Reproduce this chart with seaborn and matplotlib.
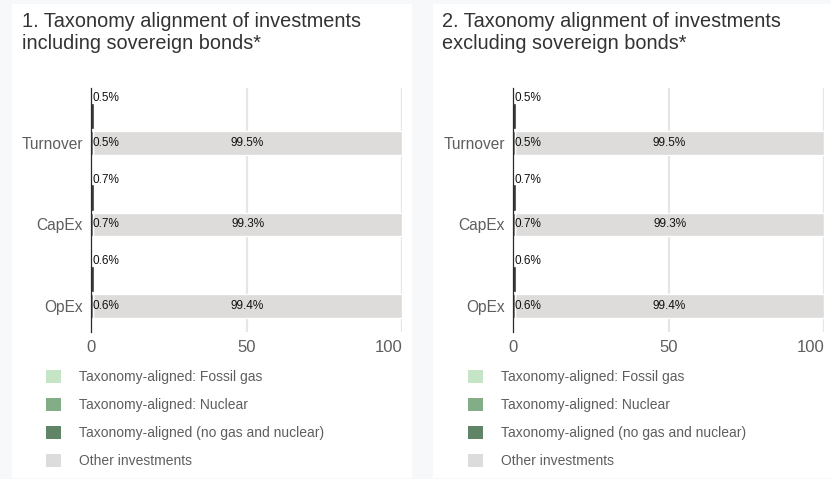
import matplotlib
matplotlib.use("Agg")
import matplotlib.pyplot as plt
import seaborn as sns
from matplotlib.patches import Patch, Rectangle

# data
categories = ["Turnover", "CapEx", "OpEx"]
aligned_incl = [0.5, 0.7, 0.6]
other_incl = [99.5, 99.3, 99.4]
aligned_excl = [0.5, 0.7, 0.6]
other_excl = [99.5, 99.3, 99.4]
titles = ["1. Taxonomy alignment of investments\nincluding sovereign bonds*",
          "2. Taxonomy alignment of investments\nexcluding sovereign bonds*"]
legend_labels = ["Taxonomy-aligned: Fossil gas", "Taxonomy-aligned: Nuclear",
                 "Taxonomy-aligned (no gas and nuclear)", "Other investments"]
legend_colors = ["#c6e4c6", "#82ad87", "#608566", "#dcdcdc"]
dark_bar = "#3c3c3c"
other_bar = "#dddcda"

sns.set_theme(style="white")
plt.rcParams["font.family"] = ["Liberation Sans", "DejaVu Sans"]

fig = plt.figure(figsize=(8.31, 4.79), dpi=100)
fig.patch.set_facecolor("#f7f8fa")
# white panels behind the axes
for px in [12, 433]:
    fig.patches.append(Rectangle((px / 831, 1 / 479), 400 / 831, 474 / 479,
                                 transform=fig.transFigure, facecolor="white",
                                 edgecolor="none", zorder=-5))

panels = [(aligned_incl, other_incl, 91, 22, 46), (aligned_excl, other_excl, 513, 442, 468)]
off_upper = -0.325
bar_h = 0.29

for i, (aligned, other, x0, tx, lx) in enumerate(panels):
    ax = fig.add_axes([x0 / 831, 1 - 332 / 479, 311 / 831, 244 / 479])
    ax.set_facecolor("none")
    ys = list(range(len(categories)))
    up = [y + off_upper for y in ys]
    # upper bar: aligned only
    ax.barh(up, aligned, height=bar_h, color=dark_bar, edgecolor=dark_bar, lw=1.2, zorder=3)
    # lower bar: aligned + other stacked
    ax.barh(ys, other, left=aligned, height=bar_h, color=other_bar, zorder=3)
    ax.barh(ys, aligned, height=bar_h, color=dark_bar, zorder=3)
    for y, a, o in zip(ys, aligned, other):
        ax.text(0.4, y - 0.55, f"{a}%", fontsize=8.5, va="center", ha="left", color="#111", zorder=4)
        ax.text(0.4, y, f"{a}%", fontsize=8.5, va="center", ha="left", color="#111", zorder=4)
        ax.text(a + o / 2, y, f"{o}%", fontsize=8.5, va="center", ha="center", color="#111", zorder=4)
    ax.set_xlim(0, 100)
    ax.set_ylim(2.32, -0.675)
    ax.set_yticks(ys)
    ax.set_yticklabels(categories, fontsize=11.2, color="#5e5e5e")
    ax.set_xticks([0, 50, 100])
    ax.set_xticklabels(["0", "50", "100"], fontsize=12, color="#5e5e5e")
    ax.get_xticklabels()[-1].set_ha("right")
    ax.tick_params(axis="x", length=0, pad=6)
    ax.tick_params(axis="y", length=0, pad=6)
    for x in [50, 100]:
        ax.axvline(x, color="#e6e6e6", lw=1.6, zorder=1)
    for s in ["top", "right", "bottom"]:
        ax.spines[s].set_visible(False)
    ax.spines["left"].set_color("#2a2a2a")
    ax.spines["left"].set_linewidth(0.9)
    ax.spines["left"].set_zorder(5)
    fig.text(tx / 831, 1 - 12 / 479, titles[i], fontsize=14.3, color="#333333",
             va="top", ha="left", linespacing=1.22)
    handles = [Patch(facecolor=c, edgecolor="none") for c in legend_colors]
    leg = ax.legend(handles, legend_labels, loc="upper left",
                    bbox_to_anchor=(lx / 831, 1 - 370 / 479), bbox_transform=fig.transFigure,
                    frameon=False, fontsize=10, handlelength=1.1, handleheight=1.1,
                    handletextpad=1.3, labelspacing=0.98, borderpad=0, borderaxespad=0)
    for t in leg.get_texts():
        t.set_color("#5e5e5e")

fig.savefig("out.png", dpi=100)
